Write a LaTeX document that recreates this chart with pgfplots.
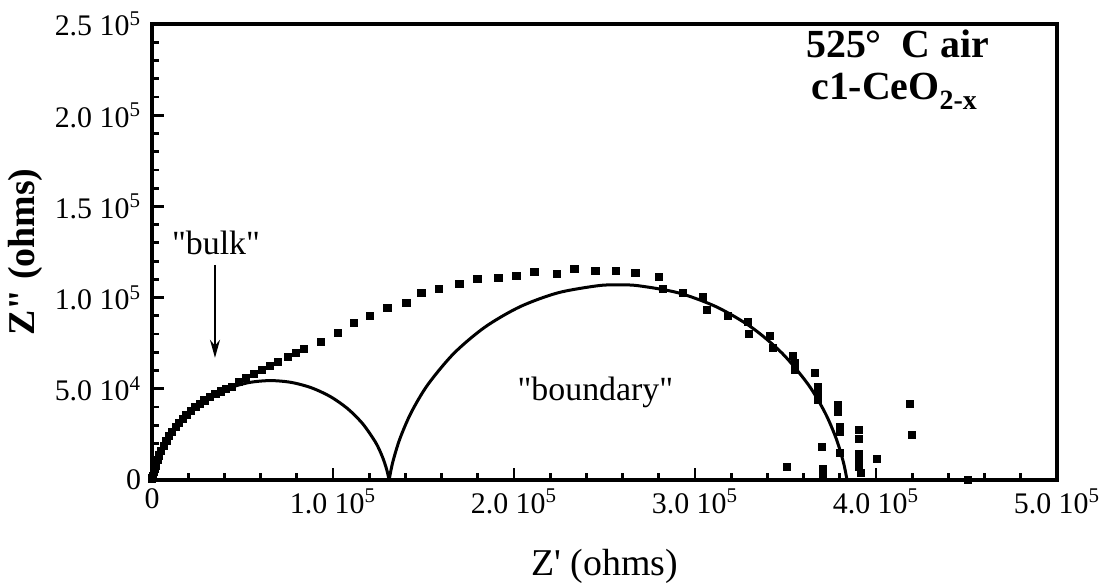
\documentclass[border=0pt]{standalone}
\usepackage{fontspec}
\setmainfont{Liberation Serif}
\usepackage{pgfplots}
\pgfplotsset{compat=1.18}
\usetikzlibrary{arrows.meta}
\begin{document}
\begin{tikzpicture}
% impedance values in units of 10^3 ohms
\begin{axis}[
  at={(0,0)}, anchor=south west,
  scale only axis, width=452.5bp, height=228bp,
  xmin=0, xmax=500, ymin=0, ymax=250,
  clip=false,
  axis line style={line width=2.2bp, black},
  xtick={0,100,200,300,400,500},
  xticklabels={0, 1.0 10\textsuperscript{5}, 2.0 10\textsuperscript{5}, 3.0 10\textsuperscript{5}, 4.0 10\textsuperscript{5}, 5.0 10\textsuperscript{5}},
  ytick={0,50,100,150,200,250},
  yticklabels={0, 5.0 10\textsuperscript{4}, 1.0 10\textsuperscript{5}, 1.5 10\textsuperscript{5}, 2.0 10\textsuperscript{5}, 2.5 10\textsuperscript{5}},
  minor x tick num=4, minor y tick num=4,
  tick align=inside, xtick pos=bottom, ytick pos=left,
  major tick length=6bp, minor tick length=3.5bp,
  every tick/.style={line width=1.4bp, black},
  ticklabel style={font=\fontsize{15}{15}\selectfont},
  xticklabel style={yshift=-1bp},
  yticklabel style={xshift=-2bp},
  xlabel={Z\textquotesingle\ (ohms)},
  ylabel={\bfseries Z\textquotedbl\ (ohms)},
  xlabel style={at={(axis description cs:0.5,-0.19)}, anchor=center, font=\fontsize{19}{19}\selectfont},
  ylabel style={at={(axis description cs:-0.1403,0.5)}, anchor=center, font=\fontsize{19}{19}\selectfont},
]
% measured spectrum
\addplot[only marks, mark=square*, mark size=1.8bp, black] coordinates {
  (0.1,0.5) (0.25,1.2) (0.5,2.4) (1,4.5) (1.5,6.3) (2,8.0) (3,10.9) (4,13.5)
  (5,15.8) (6.5,18.8) (8,21.5) (9.5,24.0) (11,26.2) (13,28.9) (15,31.3)
  (17,33.5) (19,35.6) (21.5,37.9) (24,40.0) (26.5,41.9) (29,43.6) (32,45.5)
  (35,47.1) (38,48.6) (41,49.8) (44,51.2) (48,53.6)
  (52.0,56.0) (56.4,58.2) (60.8,60.4) (65.3,62.6) (69.7,64.8) (75.2,67.6)
  (79.6,69.8) (84.1,72.0) (93.5,75.8) (102.9,80.8) (111.7,86.3) (120.6,90.1)
  (130.0,94.5) (140.5,97.3) (148.8,102.7) (158.7,104.9) (169.8,107.7)
  (179.8,110.4) (191.4,111.0) (201.3,112.1) (211.3,114.3) (223.5,113.2)
  (233.4,115.9) (245.0,114.8) (256.1,114.8) (267.1,113.7) (279.9,111.5)
  (282.1,104.9) (293.1,102.7) (304.2,100.5) (306.4,93.4) (318.0,90.1)
  (329.1,86.8) (329.6,80.2) (341.3,79.1) (342.9,72.5) (354.0,68.1)
  (355.1,64.3) (355.1,60.4) (366.2,58.8) (367.8,51.1) (367.8,47.3)
  (367.8,44.0) (378.9,41.2) (378.9,37.4) (380.0,29.1) (380.0,26.4)
  (380.0,14.8) (370.0,18.1) (350.7,7.1) (370.6,6.0) (370.6,3.3)
  (390.5,27.5) (390.5,22.5) (390.5,14.3) (390.5,11.5) (390.5,7.1)
  (391.6,3.8) (400.4,11.5) (418.7,41.8) (419.8,24.7) (450.8,0)
};
% fitted arc, bulk
\addplot[black, line width=1.5bp, smooth] coordinates {
  (0,0) (1.17,5.14) (2.92,10.68) (5.14,16.05) (7.82,21.20) (14.48,30.71)
  (22.69,38.92) (32.20,45.58) (42.72,50.48) (53.94,53.49) (65.5,54.5)
  (77.06,53.49) (88.28,50.48) (98.80,45.58) (108.31,38.92) (116.52,30.71)
  (123.18,21.20) (125.86,16.05) (128.08,10.68) (129.83,5.14) (131.0,0)
};
% fitted arc, grain boundary
\addplot[black, line width=1.5bp, smooth] coordinates {
  (131.0,0) (133.01,9.74) (136.94,22.58) (143.18,36.95) (152.40,52.29)
  (166.78,69.42) (183.91,83.80) (203.28,94.98) (224.30,102.63) (246.31,106.51)
  (257.5,107.0) (268.69,106.51) (290.70,102.63) (311.72,94.98) (331.09,83.80)
  (348.22,69.42) (362.60,52.29) (371.82,36.95) (378.06,22.58) (381.99,9.74)
  (384.0,0)
};
\node[font=\bfseries\fontsize{20}{20}\selectfont] at (axis cs:412,239) {525°\ \ C air};
\node[font=\bfseries\fontsize{20}{20}\selectfont] at (axis cs:410,213)
  {c1-CeO\raisebox{-0.55ex}{\fontsize{14}{14}\selectfont 2-x}};
\node[font=\fontsize{17}{17}\selectfont] at (axis cs:35.4,130) {\textquotedbl bulk\textquotedbl};
\node[font=\fontsize{17}{17}\selectfont] at (axis cs:245,48) {\textquotedbl boundary\textquotedbl};
\draw[line width=1bp, -{Stealth[length=9bp, width=5bp]}] (axis cs:34.8,118) -- (axis cs:34.8,67);
\end{axis}
\pgfresetboundingbox
\path[use as bounding box] (-76bp,-53bp) rectangle (476bp,240bp);
\end{tikzpicture}
\end{document}
